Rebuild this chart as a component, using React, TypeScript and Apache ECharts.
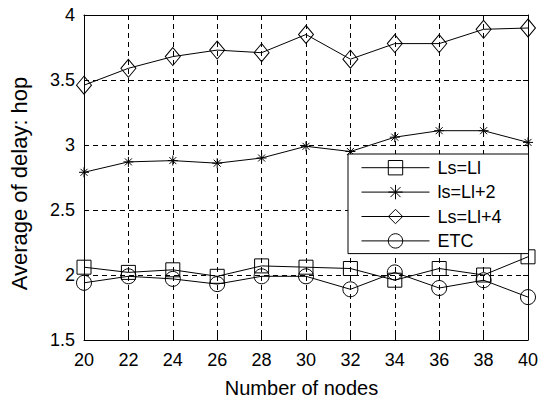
import React, { useEffect, useRef } from "react";
import * as echarts from "echarts";

const nodes = [20, 22, 24, 26, 28, 30, 32, 34, 36, 38, 40];
const lsLl = [2.06, 2.02, 2.04, 1.99, 2.07, 2.06, 2.05, 1.96, 2.05, 2.0, 2.14];
const lsLl2 = [2.79, 2.87, 2.88, 2.86, 2.9, 2.99, 2.95, 3.06, 3.11, 3.11, 3.02];
const lsLl4 = [3.46, 3.59, 3.68, 3.73, 3.71, 3.85, 3.66, 3.78, 3.78, 3.89, 3.9];
const etc = [1.94, 1.99, 1.97, 1.93, 1.99, 1.99, 1.89, 2.02, 1.9, 1.96, 1.83];
const seriesNames = ["Ls=Ll", "ls=Ll+2", "Ls=Ll+4", "ETC"];

const FONT = "'Liberation Sans', Arial, Helvetica, sans-serif";
const STAR = "path://M0,-10L0,10M-10,0L10,0M-7,-7L7,7M-7,7L7,-7";

export default function App() {
  const ref = useRef<HTMLDivElement>(null);
  useEffect(() => {
    if (!ref.current) return;
    const chart = echarts.init(ref.current, undefined, { renderer: "svg" });
    const mk = (name: string, vals: number[], symbol: string, size: any) => ({
      name,
      type: "line",
      data: nodes.map((x, i) => [x, vals[i]]),
      symbol,
      symbolSize: size,
      showAllSymbol: true,
      lineStyle: { color: "#000", width: 1 },
      itemStyle: { color: "none", borderColor: "#000", borderWidth: 1 },
      emphasis: { disabled: true },
    });
    const axisLine = { show: true, lineStyle: { color: "#000", width: 1 } };
    const axisTick = { show: true, inside: true, length: 5, lineStyle: { color: "#000" } };
    chart.setOption({
      animation: false,
      textStyle: { fontFamily: FONT },
      grid: { left: 84, right: 14, top: 15, bottom: 61, show: false, containLabel: false, outerBoundsMode: "none" },
      legend: {
        orient: "vertical",
        left: 348,
        top: 154,
        data: seriesNames,
        itemWidth: 68,
        itemHeight: 18,
        itemGap: 5,
        padding: [4, 27, 3, 13],
        backgroundColor: "#fff",
        borderColor: "#000",
        borderWidth: 1,
        borderRadius: 0,
        lineStyle: { width: 1, color: "#000" },
        itemStyle: { borderWidth: 1, borderColor: "#000", color: "none" },
        textStyle: { fontSize: 18, color: "#000", fontFamily: FONT, padding: [0, 0, 0, 3] },
        selectedMode: false,
      },
      xAxis: [
        {
          type: "value",
          min: 20,
          max: 40,
          interval: 2,
          name: "Number of nodes",
          nameLocation: "middle",
          nameGap: 38,
          nameTextStyle: { fontSize: 20, lineHeight: 20, color: "#000", fontFamily: FONT, padding: [0, 9, 0, 0] },
          axisLine,
          axisTick,
          axisLabel: { fontSize: 18, color: "#000", margin: 11, fontFamily: FONT },
          splitLine: { show: true, lineStyle: { color: "#000", type: [5, 4], width: 1 } },
        },
        {
          type: "value",
          position: "top",
          min: 20,
          max: 40,
          interval: 2,
          axisLine,
          axisTick,
          axisLabel: { show: false },
          splitLine: { show: false },
        },
      ],
      yAxis: [
        {
          type: "value",
          min: 1.5,
          max: 4,
          interval: 0.5,
          name: "Average of delay: hop",
          nameLocation: "middle",
          nameGap: 54,
          nameTextStyle: { fontSize: 22, color: "#000", fontFamily: FONT, padding: [0, 12, 0, 0] },
          axisLine,
          axisTick,
          axisLabel: { fontSize: 18, color: "#000", margin: 9, fontFamily: FONT },
          splitLine: { show: true, lineStyle: { color: "#000", type: [5, 4], width: 1 } },
        },
        {
          type: "value",
          position: "right",
          min: 1.5,
          max: 4,
          interval: 0.5,
          axisLine,
          axisTick,
          axisLabel: { show: false },
          splitLine: { show: false },
        },
      ],
      series: [
        mk(seriesNames[0], lsLl, "rect", 14),
        mk(seriesNames[1], lsLl2, STAR, 10),
        mk(seriesNames[2], lsLl4, "diamond", [15, 18]),
        mk(seriesNames[3], etc, "circle", 15),
      ],
    });
    return () => chart.dispose();
  }, []);
  return <div ref={ref} style={{ width: 542, height: 401, position: "absolute", left: 0, top: 0 }} />;
}
